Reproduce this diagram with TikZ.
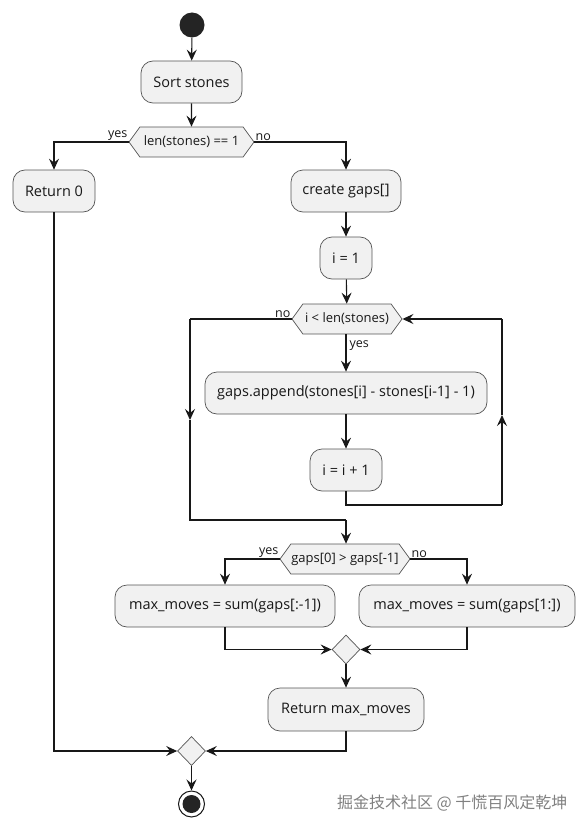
\documentclass[tikz,border=0pt]{standalone}
\usepackage{fontspec}
\setmainfont{Open Sans}
\newfontfamily\cjkfont{Noto Sans CJK SC}
\usetikzlibrary{arrows.meta,shapes.geometric,shapes.symbols}
\definecolor{boxfill}{HTML}{F1F1F1}
\definecolor{boxline}{HTML}{555555}
\definecolor{ink}{HTML}{181818}
\tikzset{
  act/.style={draw=boxline, line width=0.7pt, fill=boxfill, rounded corners=12pt,
    inner sep=0pt, font=\fontsize{14.5}{17}\selectfont, text=ink},
  hexa/.style={draw=boxline, line width=0.7pt, fill=boxfill, signal, signal to=west and east,
    signal pointer angle=108, inner sep=0pt, font=\fontsize{13}{15}\selectfont, text=ink},
  merge/.style={draw=boxline, line width=0.7pt, fill=boxfill, diamond, inner sep=0pt,
    minimum width=28pt, minimum height=29pt},
  conn/.style={draw=ink, line width=1.1pt},
  arr/.style={conn, -{Stealth[length=11pt,width=10pt,inset=4pt]}},
  lbl/.style={font=\fontsize{12.5}{14}\selectfont, text=ink, inner sep=1pt},
}
\begin{document}
\begin{tikzpicture}[x=1pt,y=-1pt]
\useasboundingbox (0,0) rectangle (588,832);
% nodes
\node[circle, fill=ink!95, minimum size=25pt, inner sep=0pt] (start) at (192,25) {};
\node[act, minimum width=101pt, minimum height=42pt] (sort) at (191.5,82) {Sort stones};
\node[hexa, minimum width=125pt, minimum height=30pt] (d1) at (191.5,142) {len(stones) == 1};
\node[act, minimum width=82pt, minimum height=42pt] (ret0) at (54,191) {Return 0};
\node[act, minimum width=110pt, minimum height=42pt] (gaps) at (346,191) {create gaps[]};
\node[act, minimum width=52pt, minimum height=42pt] (i1) at (346,258) {i = 1};
\node[hexa, minimum width=110pt, minimum height=30pt] (d2) at (347,319) {i < len(stones)};
\node[act, minimum width=282pt, minimum height=42pt] (app) at (346,393) {gaps.append(stones[i] - stones[i-1] - 1)};
\node[act, minimum width=72pt, minimum height=42pt] (inc) at (346,470) {i = i + 1};
\node[hexa, minimum width=130pt, minimum height=30pt] (d3) at (345,559) {gaps[0] > gaps[-1]};
\node[act, minimum width=220pt, minimum height=42pt] (mmL) at (225,606) {max\_moves = sum(gaps[:-1])};
\node[act, minimum width=216pt, minimum height=42pt] (mmR) at (467,606) {max\_moves = sum(gaps[1:])};
\node[merge] (m1) at (346,649.5) {};
\node[act, minimum width=156pt, minimum height=43pt] (retm) at (346,709.5) {Return max\_moves};
\node[merge] (m2) at (191.5,751) {};
\node[circle, draw=ink, line width=1pt, fill=white, minimum size=26pt, inner sep=0pt] (endo) at (191.5,804) {};
\node[circle, fill=ink!95, minimum size=18pt, inner sep=0pt] (endi) at (191.5,804) {};
% helper coordinates
\coordinate (lb) at (502,505);
\coordinate (lm) at (502,415);
\coordinate (lt) at (502,319);
\coordinate (nl) at (190,319);
\coordinate (nm) at (190,420);
\coordinate (nb) at (190,520);
\coordinate (jn) at (346,520);
% connectors
\draw[arr] (start) -- (sort);
\draw[arr] (sort) -- (d1);
\draw[arr] (d1.west) -| (ret0.north);
\node[lbl, anchor=south east] at (d1.west) {yes};
\draw[arr] (d1.east) -| (gaps.north);
\node[lbl, anchor=south west] at (d1.east) {no};
\draw[arr] (gaps) -- (i1);
\draw[arr] (i1) -- (d2);
\draw[arr] (d2.south -| app.north) -- node[lbl, right, pos=0.3, xshift=2pt] {yes} (app.north);
\draw[arr] (app) -- (inc);
\draw[conn] (inc.south) |- (lb);
\draw[arr] (lb) -- (lm);
\draw[conn] (lm) -- (lt);
\draw[arr] (lt) -- (d2.east);
\draw[conn] (d2.west) -- (nl);
\node[lbl, anchor=south east] at (d2.west) {no};
\draw[arr] (nl) -- (nm);
\draw[conn] (nm) -- (nb) -- (jn);
\draw[arr] (jn) -- (jn |- d3.north);
\draw[arr] (d3.west) -| (mmL.north);
\node[lbl, anchor=south east] at (d3.west) {yes};
\draw[arr] (d3.east) -| (mmR.north);
\node[lbl, anchor=south west] at (d3.east) {no};
\draw[arr] (mmL.south) |- (m1.west);
\draw[arr] (mmR.south) |- (m1.east);
\draw[arr] (m1) -- (retm);
\draw[arr] (ret0.south) |- (m2.west);
\draw[arr] (retm.south) |- (m2.east);
\draw[arr] (m2) -- (endo);
% watermark
\node[text=black!50, font=\cjkfont\fontsize{16}{19}\selectfont, anchor=east] (wm) at (571,803) {掘金技术社区 @ 千慌百风定乾坤};
\end{tikzpicture}
\end{document}
